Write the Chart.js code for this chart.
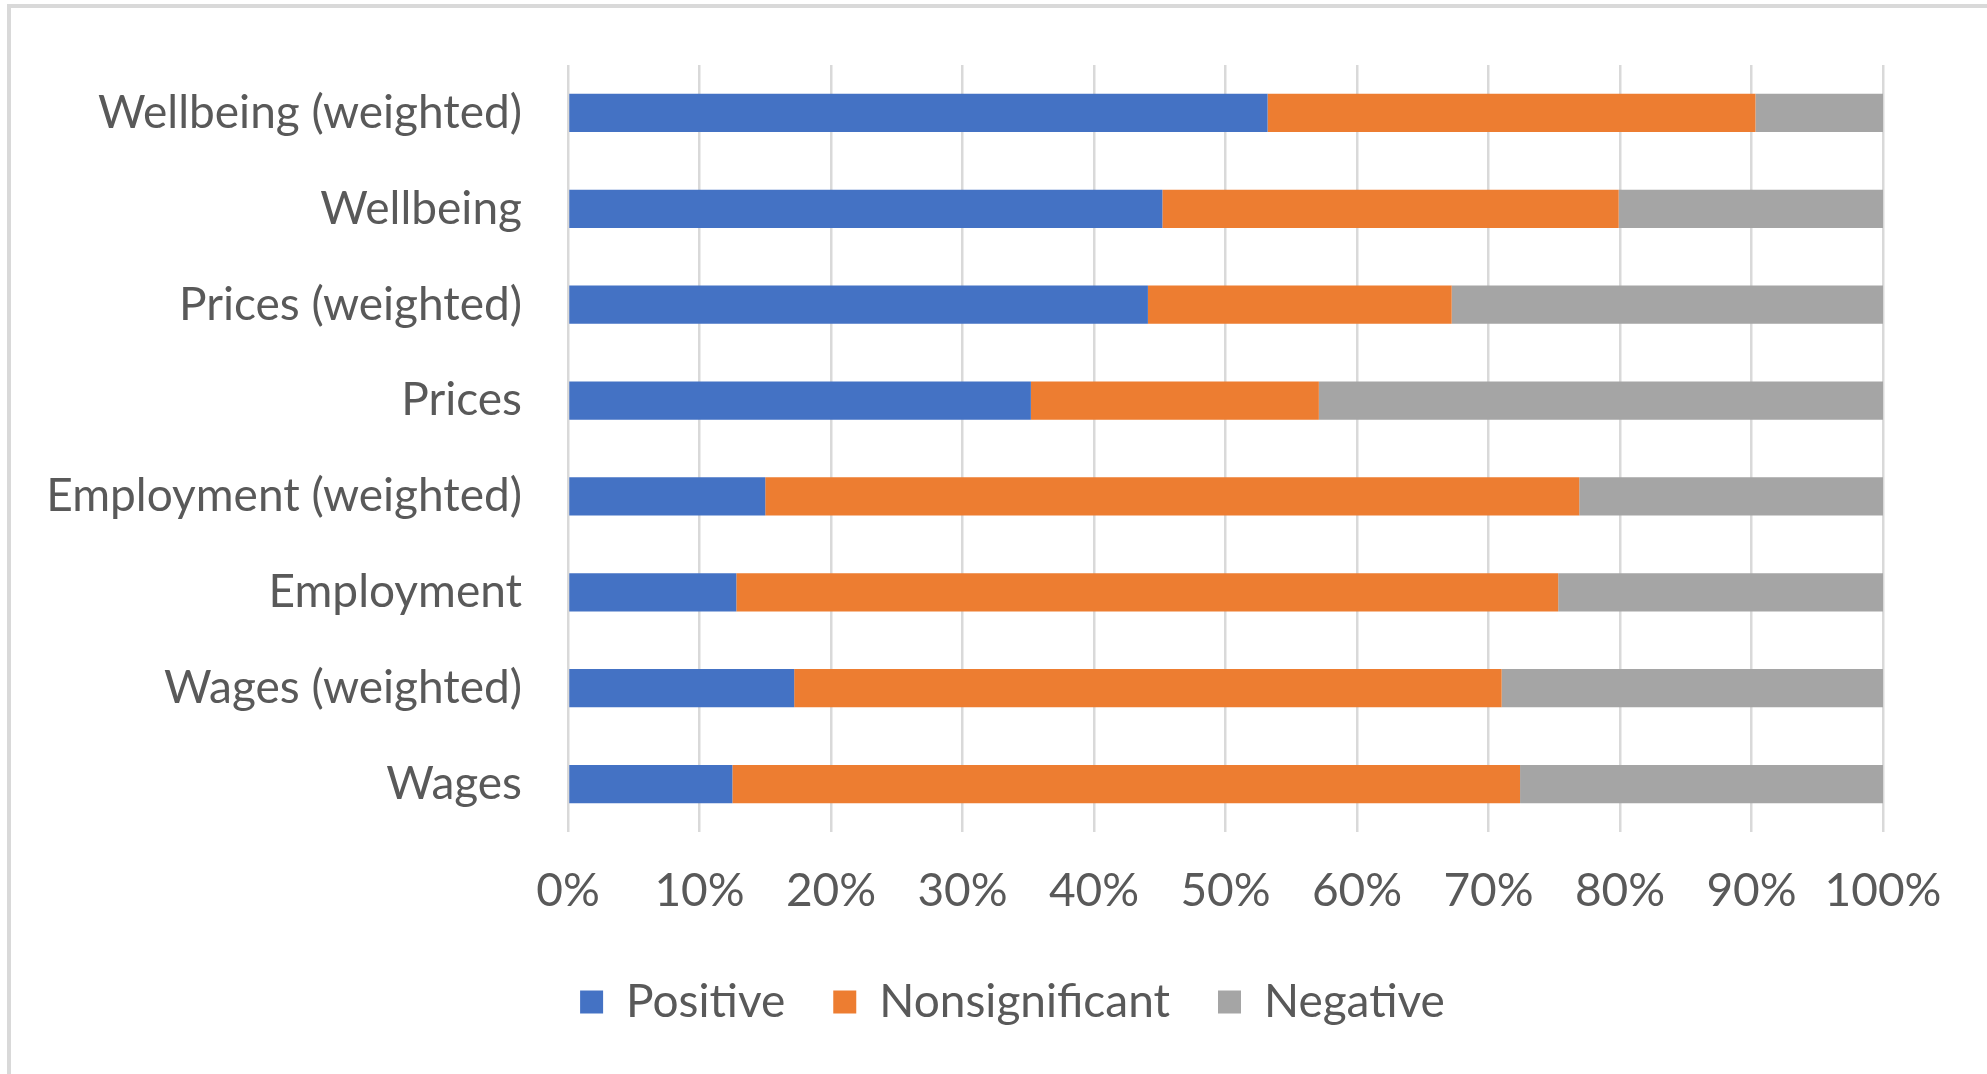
<!DOCTYPE html>
<html lang="en">
<head>
    <meta charset="UTF-8">
    <title>Outcomes by Indicator</title>
    <script src="https://cdn.jsdelivr.net/npm/chart.js"></script>
    <style>
        body {
            margin: 0;
            background: white;
            overflow: hidden;
        }
        .frame {
            position: absolute;
            left: 7px;
            top: 4px;
            width: 2100px;
            height: 1200px;
            border: 4px solid #d9d9d9;
            box-sizing: border-box;
        }
        .chart-box {
            position: absolute;
            left: 0;
            top: 0;
            width: 2025px;
            height: 1074px;
        }
    </style>
</head>
<body>
    <div class="frame"></div>
    <div class="chart-box">
        <canvas id="outcomeChart"></canvas>
    </div>

    <script>
        // categories top to bottom
        const categories = ['Wellbeing (weighted)', 'Wellbeing', 'Prices (weighted)', 'Prices',
            'Employment (weighted)', 'Employment', 'Wages (weighted)', 'Wages'];

        // shares in percent
        const positive = [53.2, 45.2, 44.1, 35.2, 15.0, 12.8, 17.2, 12.5];
        const nonsignificant = [37.1, 34.7, 23.1, 21.9, 61.9, 62.5, 53.8, 59.9];
        const negative = [9.7, 20.1, 32.8, 42.9, 23.1, 24.7, 29.0, 27.6];

        const tickLabels = ['0%', '10%', '20%', '30%', '40%', '50%', '60%', '70%', '80%', '90%', '100%'];

        const textColor = '#595959';
        const gridColor = '#d9d9d9';
        const font = { family: 'Lato', size: 46 };

        // legend is centred on the whole frame, not only the plot side
        const legendShift = {
            id: 'legendShift',
            afterLayout(chart) {
                chart.legend.left += 71;
                chart.legend.right += 71;
            }
        };

        const ctx = document.getElementById('outcomeChart').getContext('2d');
        new Chart(ctx, {
            type: 'bar',
            data: {
                labels: categories,
                datasets: [
                    { label: 'Positive', data: positive, backgroundColor: '#4472C4' },
                    { label: 'Nonsignificant', data: nonsignificant, backgroundColor: '#ED7D31' },
                    { label: 'Negative', data: negative, backgroundColor: '#A5A5A5' }
                ]
            },
            options: {
                indexAxis: 'y',
                responsive: true,
                maintainAspectRatio: false,
                animation: false,
                datasets: {
                    bar: { barPercentage: 0.4, categoryPercentage: 1 }
                },
                layout: {
                    padding: { top: 65, left: 0, right: 142, bottom: 39 }
                },
                scales: {
                    x: {
                        stacked: true,
                        min: 0,
                        max: 100,
                        grid: { color: gridColor, lineWidth: 2.5, drawTicks: false },
                        border: { display: false },
                        ticks: {
                            stepSize: 10,
                            padding: 32,
                            color: textColor,
                            font: font,
                            callback: (v, i) => tickLabels[i]
                        },
                        afterFit: (scale) => { scale.height = 99; }
                    },
                    y: {
                        stacked: true,
                        // invisible tick length keeps the gap between labels and bars
                        grid: { display: false, drawTicks: true, tickLength: 46 },
                        border: { display: false },
                        ticks: { padding: 0, color: textColor, font: font },
                        afterFit: (scale) => { scale.width = 568; }
                    }
                },
                plugins: {
                    legend: {
                        position: 'bottom',
                        labels: {
                            boxWidth: 23,
                            boxHeight: 23,
                            padding: 48,
                            color: textColor,
                            font: font
                        }
                    },
                    tooltip: { enabled: false }
                }
            },
            plugins: [legendShift]
        });
    </script>
</body>
</html>
